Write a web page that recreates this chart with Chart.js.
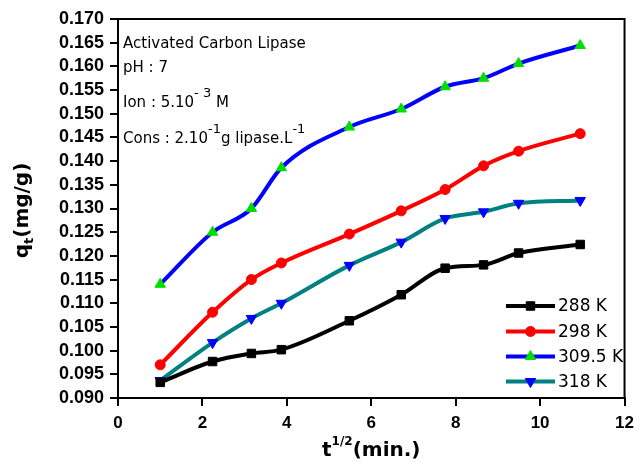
<!DOCTYPE html>
<html>
<head>
<meta charset="utf-8">
<script src="https://cdn.jsdelivr.net/npm/chart.js@4.4.1/dist/chart.umd.min.js"></script>
<style>
  html, body { margin: 0; padding: 0; background: #fff; }
  #wrap { width: 641px; height: 462px; }
</style>
</head>
<body>
<div id="wrap"><canvas id="chart" width="641" height="462"></canvas></div>
<script>
// t^1/2 (min.) for each sample
const tValues = [1, 2.24, 3.16, 3.87, 5.48, 6.71, 7.75, 8.66, 9.49, 10.95];

// qt (mg/g) per temperature
const q288 = [0.0933, 0.0977, 0.0994, 0.1002, 0.1063, 0.1118, 0.1174, 0.1181, 0.1206, 0.1224];
const q298 = [0.0970, 0.1081, 0.1150, 0.1185, 0.1246, 0.1295, 0.1340, 0.1390, 0.1421, 0.1458];
const q3095 = [0.1140, 0.1250, 0.1300, 0.1386, 0.1472, 0.1510, 0.1557, 0.1575, 0.1606, 0.1644];
const q318 = [0.0937, 0.1017, 0.1068, 0.1100, 0.1180, 0.1229, 0.1279, 0.1293, 0.1311, 0.1317];

const seriesLabels = ["288 K", "298 K", "309.5 K", "318 K"];

const yMin = 0.09, yMax = 0.17, yStep = 0.005;
const xMin = 0, xMax = 12, xStep = 2;

function points(ys) {
  return ys.map((y, i) => ({ x: tValues[i], y: y }));
}

const textFont = '"DejaVu Sans", sans-serif';

// draws a run of [text, size, dy] pieces left to right, returns end x
function drawRuns(ctx, runs, x, y, weight) {
  runs.forEach(([txt, size, dy]) => {
    ctx.font = weight + " " + size + "px " + textFont;
    ctx.fillText(txt, x, y + dy);
    x += ctx.measureText(txt).width;
  });
  return x;
}
function runsWidth(ctx, runs, weight) {
  let w = 0;
  runs.forEach(([txt, size]) => {
    ctx.font = weight + " " + size + "px " + textFont;
    w += ctx.measureText(txt).width;
  });
  return w;
}

const decorations = {
  id: "decorations",
  afterDraw(chart) {
    const ctx = chart.ctx;
    const area = chart.chartArea;
    ctx.save();

    // top and right frame
    ctx.strokeStyle = "#000";
    ctx.lineWidth = 2;
    ctx.beginPath();
    ctx.moveTo(area.left, area.top);
    ctx.lineTo(area.right, area.top);
    ctx.lineTo(area.right, area.bottom);
    ctx.stroke();

    ctx.fillStyle = "#000";
    ctx.textAlign = "left";
    ctx.textBaseline = "alphabetic";

    // annotation block
    const ax = 123;
    drawRuns(ctx, [["Activated Carbon Lipase", 15, 0]], ax, 48, "normal");
    drawRuns(ctx, [["pH : 7", 15, 0]], ax, 72, "normal");
    drawRuns(ctx, [["Ion : 5.10", 15, 0], ["- 3", 13, -10], [" M", 15, 0]], ax, 107, "normal");
    drawRuns(ctx, [["Cons : 2.10", 15, 0], ["-1", 13, -10], ["g lipase.L", 15, 0], ["-1", 13, -10]], ax, 143, "normal");

    // x axis title
    const xRuns = [["t", 20, 0], ["1/2", 12, -11], ["(min.)", 20, 0]];
    const xw = runsWidth(ctx, xRuns, "bold");
    drawRuns(ctx, xRuns, (area.left + area.right) / 2 - xw / 2, 456, "bold");

    // y axis title
    const yRuns = [["q", 20, 0], ["t", 13, 5], ["(mg/g)", 20, 0]];
    const yw = runsWidth(ctx, yRuns, "bold");
    ctx.save();
    ctx.translate(28, (area.top + area.bottom) / 2 + 2);
    ctx.rotate(-Math.PI / 2);
    drawRuns(ctx, yRuns, -yw / 2, 0, "bold");
    ctx.restore();

    // legend inside the plot
    const rows = [306, 331.5, 356.5, 381.5];
    chart.data.datasets.forEach((ds, i) => {
      const y = rows[i];
      ctx.strokeStyle = ds.borderColor;
      ctx.lineWidth = ds.borderWidth;
      ctx.beginPath();
      ctx.moveTo(506, y);
      ctx.lineTo(555, y);
      ctx.stroke();
      ctx.fillStyle = ds.pointBackgroundColor;
      ctx.strokeStyle = ds.pointBorderColor;
      ctx.lineWidth = 1;
      Chart.helpers.drawPoint(ctx, {
        pointStyle: ds.pointStyle,
        radius: ds.pointRadius,
        rotation: ds.pointRotation || 0,
        borderWidth: 1
      }, 530.5, y);
      ctx.fillStyle = "#000";
      ctx.font = "17px " + textFont;
      ctx.textBaseline = "middle";
      ctx.fillText(ds.label, 558, y + 1);
      ctx.textBaseline = "alphabetic";
    });

    ctx.restore();
  }
};

const lineBase = {
  borderWidth: 4,
  cubicInterpolationMode: "monotone",
  fill: false,
  pointBorderWidth: 1,
  pointHoverRadius: 6
};

new Chart(document.getElementById("chart"), {
  type: "line",
  data: {
    datasets: [
      Object.assign({}, lineBase, {
        label: seriesLabels[0],
        data: points(q288),
        borderColor: "#000000",
        pointStyle: "rect",
        pointRadius: 6,
        pointBackgroundColor: "#000000",
        pointBorderColor: "#000000"
      }),
      Object.assign({}, lineBase, {
        label: seriesLabels[1],
        data: points(q298),
        borderColor: "#ff0000",
        pointStyle: "circle",
        pointRadius: 5,
        pointBackgroundColor: "#ff0000",
        pointBorderColor: "#ff0000"
      }),
      Object.assign({}, lineBase, {
        label: seriesLabels[2],
        data: points(q3095),
        borderColor: "#0000ff",
        pointStyle: "triangle",
        pointRadius: 6,
        pointBackgroundColor: "#00dd00",
        pointBorderColor: "#00dd00"
      }),
      Object.assign({}, lineBase, {
        label: seriesLabels[3],
        data: points(q318),
        borderColor: "#008080",
        pointStyle: "triangle",
        pointRotation: 180,
        pointRadius: 6,
        pointBackgroundColor: "#0000ff",
        pointBorderColor: "#0000ff"
      })
    ]
  },
  options: {
    responsive: false,
    animation: false,
    layout: { padding: { top: 19, right: 10, left: 0, bottom: 0 } },
    plugins: {
      legend: { display: false },
      tooltip: { enabled: false }
    },
    scales: {
      x: {
        type: "linear",
        min: xMin,
        max: xMax,
        ticks: {
          stepSize: xStep,
          autoSkip: false,
          color: "#000",
          padding: 7,
          font: { family: '"Liberation Sans", Arial, sans-serif', size: 17, weight: "bold" }
        },
        grid: { drawOnChartArea: false, color: "#000", lineWidth: 2, tickLength: 8 },
        border: { display: true, color: "#000", width: 2 },
        afterFit(scale) { scale.height = 64; }
      },
      y: {
        type: "linear",
        min: yMin,
        max: yMax,
        ticks: {
          stepSize: yStep,
          autoSkip: false,
          color: "#000",
          padding: 6,
          font: { family: '"Liberation Sans", Arial, sans-serif', size: 18, weight: "bold" },
          callback: (v) => v.toFixed(3)
        },
        grid: { drawOnChartArea: false, color: "#000", lineWidth: 2, tickLength: 8 },
        border: { display: true, color: "#000", width: 2 },
        afterFit(scale) { scale.width = 118; }
      }
    }
  },
  plugins: [decorations]
});
</script>
</body>
</html>
